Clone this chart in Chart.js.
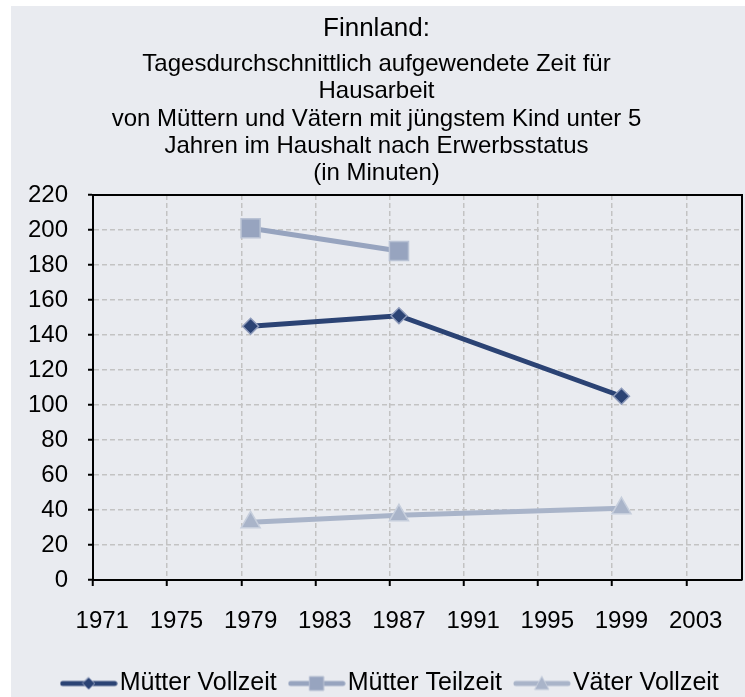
<!DOCTYPE html>
<html>
<head>
<meta charset="utf-8">
<script src="https://cdn.jsdelivr.net/npm/chart.js@4.4.1/dist/chart.umd.min.js"></script>
<style>
  html, body { margin: 0; padding: 0; background: #fff; overflow: hidden; }
  #wrap { position: absolute; left: 11px; top: 6px; width: 734px; height: 700px; background: #e9ebf0; }
</style>
</head>
<body>
<div id="wrap"><canvas id="chart"></canvas></div>
<script>
// x categories: one per year, labelled every 4 years
const categories = [];
for (let y = 1971; y <= 2005; y++) categories.push(String(y));
const tickLabels = ['1971', '1975', '1979', '1983', '1987', '1991', '1995', '1999', '2003'];

const surveyYears = ['1979', '1987', '1999'];
const muetterVollzeit = [145, 151, 105];
const muetterTeilzeit = [201, 188];
const vaeterVollzeit = [33, 37, 41];

const titleText = 'Finnland:';
const subtitleLines = [
  'Tagesdurchschnittlich aufgewendete Zeit für',
  'Hausarbeit',
  'von Müttern und Vätern mit jüngstem Kind unter 5',
  'Jahren im Haushalt nach Erwerbsstatus',
  '(in Minuten)'
];

const toPoints = vals => vals.map((v, i) => ({ x: surveyYears[i], y: v }));

// small legend sample: line with marker in the middle
function makeSample(color, edge, shape) {
  const c = document.createElement('canvas');
  c.width = 58; c.height = 20;
  const g = c.getContext('2d');
  g.strokeStyle = color; g.lineWidth = 5; g.lineCap = 'round';
  g.beginPath(); g.moveTo(3, 10); g.lineTo(55, 10); g.stroke();
  g.fillStyle = color; g.strokeStyle = edge; g.lineWidth = 1;
  g.beginPath();
  if (shape === 'diamond') {
    g.moveTo(29, 4); g.lineTo(35, 10); g.lineTo(29, 16); g.lineTo(23, 10);
  } else if (shape === 'square') {
    g.rect(22, 3, 14, 14);
  } else {
    g.moveTo(29, 3); g.lineTo(36, 16); g.lineTo(22, 16);
  }
  g.closePath(); g.fill(); g.stroke();
  return c;
}

const colors = {
  vollzeit: '#2b4374', vollzeitEdge: '#8e9bbb',
  teilzeit: '#97a4bf', teilzeitEdge: '#b9c2d4',
  vaeter: '#a9b4c9', vaeterEdge: '#c6cedc'
};
const samples = [
  makeSample(colors.vollzeit, colors.vollzeitEdge, 'diamond'),
  makeSample(colors.teilzeit, colors.teilzeitEdge, 'square'),
  makeSample(colors.vaeter, colors.vaeterEdge, 'triangle')
];

// black frame on top and right of the plot area
const frame = {
  id: 'frame',
  beforeDatasetsDraw(chart) {
    const { ctx, chartArea: a } = chart;
    ctx.save();
    ctx.strokeStyle = '#000';
    ctx.lineWidth = 2;
    ctx.beginPath();
    ctx.moveTo(a.left, a.top);
    ctx.lineTo(a.right, a.top);
    ctx.lineTo(a.right, a.bottom);
    ctx.stroke();
    ctx.restore();
  }
};

// legend row sits a bit right of centre in the original
const legendShift = {
  id: 'legendShift',
  afterLayout(chart) {
    chart.legend.left += 18;
    chart.legend.right += 18;
  }
};

Chart.defaults.font.family = '"Liberation Sans", Arial, sans-serif';
Chart.defaults.color = '#000';

const gridGray = '#c3c3c3';

new Chart(document.getElementById('chart').getContext('2d'), {
  type: 'line',
  data: {
    datasets: [
      {
        label: 'Mütter Vollzeit',
        data: toPoints(muetterVollzeit),
        borderColor: colors.vollzeit,
        backgroundColor: colors.vollzeit,
        borderWidth: 5,
        pointStyle: 'rectRot',
        pointRadius: 8,
        pointBackgroundColor: colors.vollzeit,
        pointBorderColor: colors.vollzeitEdge,
        pointBorderWidth: 1.5
      },
      {
        label: 'Mütter Teilzeit',
        data: toPoints(muetterTeilzeit),
        borderColor: colors.teilzeit,
        backgroundColor: colors.teilzeit,
        borderWidth: 5,
        pointStyle: 'rect',
        pointRadius: 13.5,
        pointBackgroundColor: colors.teilzeit,
        pointBorderColor: colors.teilzeitEdge,
        pointBorderWidth: 1.5
      },
      {
        label: 'Väter Vollzeit',
        data: toPoints(vaeterVollzeit),
        borderColor: colors.vaeter,
        backgroundColor: colors.vaeter,
        borderWidth: 5,
        pointStyle: 'triangle',
        pointRadius: 11,
        pointBackgroundColor: colors.vaeter,
        pointBorderColor: colors.vaeterEdge,
        pointBorderWidth: 1.5
      }
    ]
  },
  options: {
    responsive: true,
    maintainAspectRatio: false,
    animation: false,
    layout: { autoPadding: false, padding: { left: 0, right: 3, top: 0, bottom: 0 } },
    scales: {
      x: {
        type: 'category',
        labels: categories,
        offset: true,
        grid: {
          offset: true,
          color: ctx => (ctx.index > 0 && ctx.index % 4 === 0) ? gridGray : 'transparent',
          lineWidth: 1.5,
          tickLength: 6,
          tickWidth: 2,
          tickColor: ctx => (ctx.index % 4 === 0) ? '#000' : 'transparent',
          tickBorderDash: []
        },
        border: { color: '#000', width: 2, dash: [5, 3] },
        ticks: {
          autoSkip: false,
          maxRotation: 0,
          padding: 21,
          font: { size: 24 },
          callback: (v, i) => tickLabels.includes(categories[i]) ? categories[i] : ''
        },
        afterFit: s => { s.height = 69.5; s.paddingLeft = 0; s.paddingRight = 0; }
      },
      y: {
        min: 0,
        max: 220,
        grid: {
          color: ctx => (ctx.tick && ctx.tick.value > 0 && ctx.tick.value < 220) ? gridGray : 'transparent',
          lineWidth: 1.5,
          tickLength: 5,
          tickWidth: 2,
          tickColor: '#000',
          tickBorderDash: []
        },
        border: { color: '#000', width: 2, dash: [5, 3] },
        ticks: { stepSize: 20, padding: 20, font: { size: 24 } },
        afterFit: s => { s.width = 82; }
      }
    },
    plugins: {
      title: {
        display: true,
        text: titleText,
        font: { size: 26, weight: 'normal' },
        padding: { top: 7.4, bottom: 0 }
      },
      subtitle: {
        display: true,
        text: subtitleLines,
        font: { size: 24, lineHeight: 1.1375 },
        padding: { top: 6.3, bottom: 7.6 }
      },
      legend: {
        position: 'bottom',
        labels: {
          usePointStyle: true,
          pointStyleWidth: 37,
          padding: 21.5,
          font: { size: 25 },
          generateLabels: chart => chart.data.datasets.map((ds, i) => ({
            text: ds.label,
            pointStyle: samples[i],
            fillStyle: ds.borderColor,
            strokeStyle: ds.borderColor,
            lineWidth: 0,
            hidden: false,
            datasetIndex: i,
            fontColor: '#000'
          }))
        }
      },
      tooltip: { enabled: false }
    }
  },
  plugins: [frame, legendShift]
});
</script>
</body>
</html>
